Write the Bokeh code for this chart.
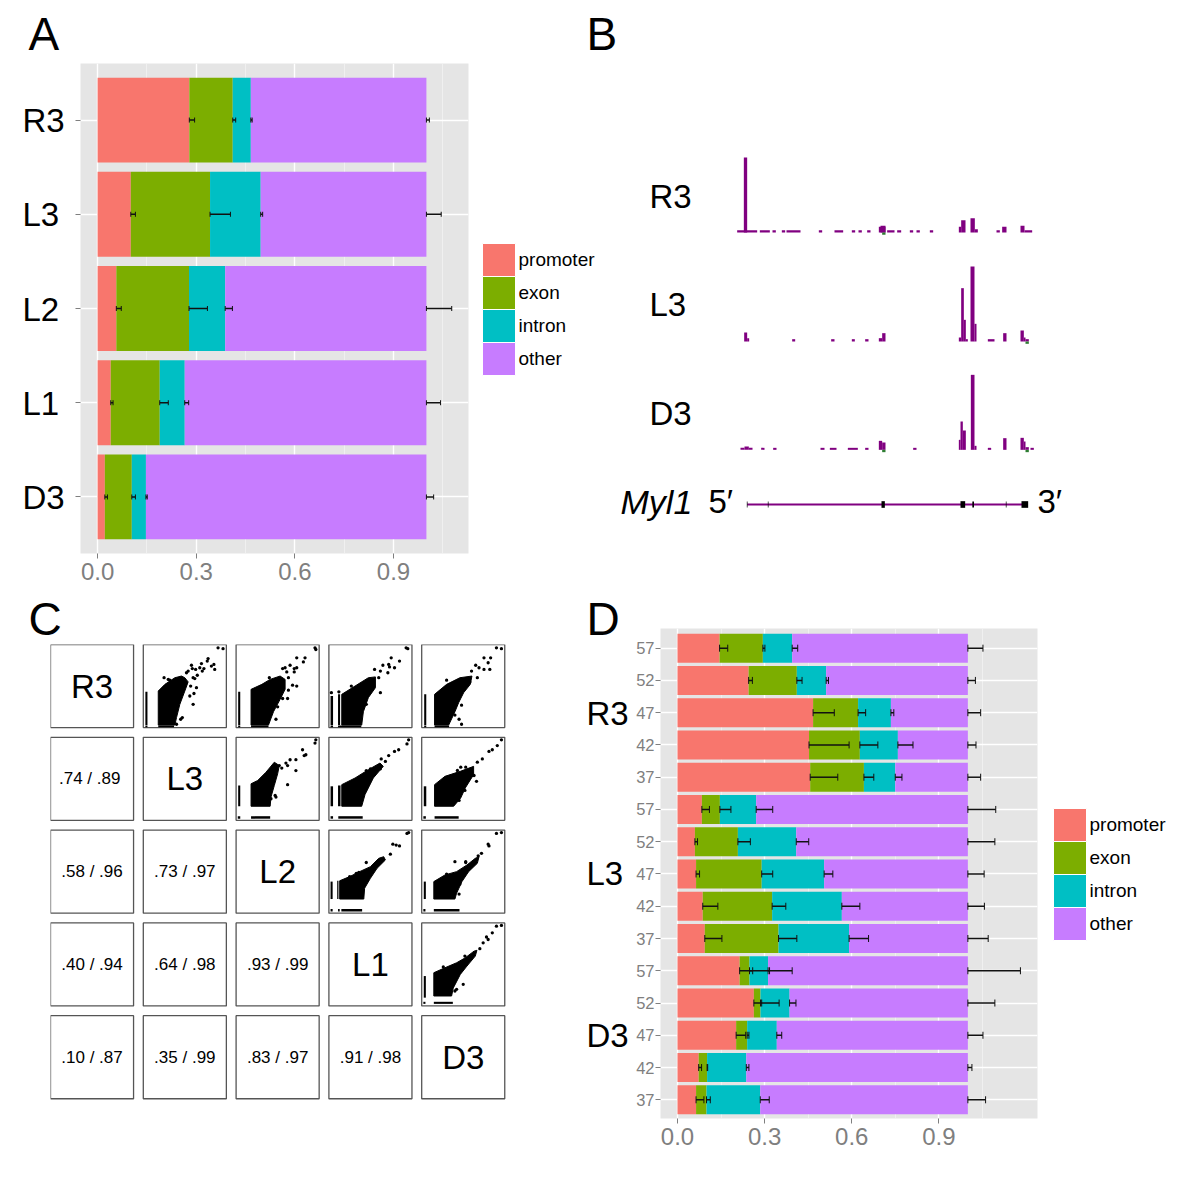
from bokeh.plotting import figure
from bokeh.layouts import row, column
from bokeh.core.properties import value
from bokeh.models import ColumnDataSource, FixedTicker, PrintfTickFormatter, Range1d, TeeHead, Whisker
from bokeh.embed import file_html
from bokeh.resources import INLINE

# ---------- Panel A data ----------
a_rows = ["D3", "L1", "L2", "L3", "R3"]
a_promoter = [0.022, 0.040, 0.057, 0.101, 0.279]
a_exon = [0.104, 0.189, 0.278, 0.342, 0.411]
a_intron = [0.147, 0.265, 0.388, 0.496, 0.466]
a_other = [1.0, 1.0, 1.0, 1.0, 1.0]
a_err_promoter = [0.030, 0.047, 0.072, 0.115, 0.295]
a_err_exon = [0.115, 0.215, 0.334, 0.404, 0.420]
a_err_intron = [0.151, 0.277, 0.410, 0.502, 0.470]
a_err_other = [1.022, 1.043, 1.077, 1.045, 1.009]

# ---------- Panel D data (bottom row first) ----------
d_rows = ["37", "42", "47", "52", "57", "37", "42", "47", "52", "57", "37", "42", "47", "52", "57"]
d_promoter = [.064, .073, .202, .263, .214, .094, .087, .064, .060, .084, .457, .453, .467, .245, .145]
d_exon = [.100, .102, .240, .286, .248, .348, .326, .290, .208, .146, .642, .628, .622, .411, .294]
d_intron = [.285, .237, .342, .386, .312, .591, .566, .505, .409, .271, .750, .759, .735, .512, .395]
d_other = [1.0] * 15
d_err_promoter = [.091, .083, .235, .290, .259, .153, .139, .076, .069, .110, .552, .591, .540, .258, .173]
d_err_exon = [.113, .104, .246, .350, .317, .411, .373, .328, .251, .184, .676, .690, .648, .429, .301]
d_err_intron = [.316, .246, .359, .408, .395, .658, .628, .535, .452, .328, .773, .811, .745, .520, .414]
d_err_other = [1.061, 1.014, 1.052, 1.093, 1.181, 1.070, 1.057, 1.056, 1.093, 1.096, 1.044, 1.028, 1.044, 1.026, 1.052]

classes = ["promoter", "exon", "intron", "other"]
colors = ["#F8766D", "#7CAE00", "#00BFC4", "#C77CFF"]
x_ticks = [0.0, 0.3, 0.6, 0.9]

# ---------- Panel B data (genome position, left/right/height) ----------
r3_left = [20, 40, 88, 126, 154, 168, 265, 312, 364, 384, 410, 445, 450, 470, 500, 538, 558, 598, 685, 692, 720, 733, 798, 815, 870, 882]
r3_right = [80, 50, 118, 136, 164, 210, 275, 338, 374, 394, 420, 465, 465, 492, 512, 548, 568, 608, 692, 705, 733, 742, 808, 828, 882, 905]
r3_height = [7, 225, 7, 7, 7, 7, 7, 7, 7, 7, 7, 17, 20, 7, 7, 7, 7, 7, 17, 37, 43, 10, 7, 17, 20, 7]
l3_left = [41, 50, 185, 302, 364, 404, 445, 455, 685, 692, 700, 706, 720, 732, 772, 818, 870, 880, 885]
l3_right = [50, 56, 194, 312, 373, 414, 455, 465, 692, 700, 706, 712, 732, 738, 792, 828, 880, 885, 895]
l3_height = [27, 10, 7, 7, 7, 7, 10, 25, 12, 160, 65, 7, 225, 53, 7, 25, 33, 12, 7]
d3_left = [30, 42, 55, 92, 128, 270, 298, 352, 404, 445, 455, 548, 685, 690, 697, 721, 732, 772, 818, 870, 880, 885, 900]
d3_right = [42, 55, 66, 102, 138, 282, 318, 382, 414, 455, 465, 558, 690, 697, 706, 732, 738, 782, 828, 880, 885, 895, 910]
d3_height = [6, 10, 6, 6, 6, 6, 6, 6, 6, 27, 22, 6, 30, 85, 58, 225, 12, 6, 35, 36, 25, 8, 6]
gene_start, gene_end = 50, 883
exon_pos = [50, 113, 458, 697, 728, 827, 883]
exon_width = [2, 2, 10, 14, 5, 2, 20]
exon_height = [18, 18, 20, 20, 18, 18, 20]

# ---------- Panel C data ----------
names = ["R3", "L3", "L2", "L1", "D3"]
corr = {(1, 0): ".74  / .89", (2, 0): ".58 / .96", (2, 1): ".73 / .97",
        (3, 0): ".40 / .94", (3, 1): ".64 / .98", (3, 2): ".93 / .99",
        (4, 0): ".10 / .87", (4, 1): ".35 / .99", (4, 2): ".83 / .97", (4, 3): ".91 / .98"}
blobs = {
    (0, 1): [(.18, .03), (.18, .44), (.26, .52), (.38, .60), (.46, .62), (.50, .60), (.54, .55), (.50, .44), (.44, .28), (.40, .12), (.38, .03)],
    (0, 2): [(.18, .03), (.18, .46), (.31, .52), (.41, .58), (.53, .62), (.59, .58), (.59, .46), (.53, .34), (.45, .19), (.39, .03)],
    (0, 3): [(.155, .03), (.155, .40), (.315, .50), (.475, .60), (.56, .61), (.56, .48), (.475, .36), (.415, .19), (.395, .03)],
    (0, 4): [(.155, .03), (.155, .40), (.30, .52), (.46, .60), (.605, .62), (.585, .52), (.505, .42), (.445, .30), (.40, .19), (.325, .03)],
    (1, 2): [(.18, .17), (.18, .44), (.26, .48), (.36, .58), (.46, .70), (.52, .66), (.50, .56), (.46, .42), (.42, .28), (.41, .17)],
    (1, 3): [(.155, .17), (.155, .43), (.315, .51), (.475, .61), (.615, .69), (.655, .65), (.535, .51), (.435, .31), (.395, .17)],
    (1, 4): [(.155, .17), (.155, .43), (.28, .53), (.465, .59), (.625, .65), (.625, .55), (.525, .39), (.47, .27), (.385, .17)],
    (2, 3): [(.13, .17), (.13, .39), (.25, .44), (.37, .50), (.50, .56), (.60, .66), (.66, .68), (.68, .64), (.58, .54), (.50, .42), (.43, .30), (.42, .17)],
    (2, 4): [(.146, .17), (.146, .38), (.28, .46), (.42, .50), (.545, .58), (.645, .66), (.69, .68), (.67, .60), (.565, .50), (.485, .38), (.42, .24), (.40, .17)],
    (3, 4): [(.146, .12), (.146, .40), (.28, .46), (.42, .52), (.525, .58), (.63, .66), (.665, .67), (.645, .60), (.545, .48), (.465, .38), (.38, .215), (.36, .12)],
}
# vertical strip near the left edge: u0, u1, v0, v1
side_strips = {
    (0, 1): [(.025, .05, .03, .43)], (0, 2): [(.025, .05, .03, .43)],
    (0, 3): [(.02, .05, .03, .38), (.11, .135, .03, .40)], (0, 4): [(.03, .055, .03, .40)],
    (1, 2): [(.025, .05, .17, .42)], (1, 3): [(.02, .05, .17, .41), (.11, .14, .17, .42)],
    (1, 4): [(.025, .055, .17, .41)], (2, 3): [(.02, .045, .17, .38), (.10, .115, .17, .39)],
    (2, 4): [(.025, .05, .17, .38)], (3, 4): [(.025, .05, .10, .36)],
}
# horizontal strip along the bottom edge: u0, u1, v0, v1
low_strips = {
    (0, 1): [(.025, .05, .005, .025), (.18, .37, .005, .025)], (0, 2): [(.025, .05, .005, .025), (.18, .39, .005, .025)],
    (0, 3): [(.02, .05, .005, .025), (.11, .39, .005, .025)], (0, 4): [(.03, .055, .005, .025), (.155, .33, .005, .025)],
    (1, 2): [(.02, .05, .02, .05), (.18, .41, .02, .05)], (1, 3): [(.02, .05, .02, .05), (.113, .407, .02, .05)],
    (1, 4): [(.02, .05, .02, .05), (.155, .445, .02, .05)], (2, 3): [(.02, .045, .02, .05), (.11, .13, .02, .05), (.15, .40, .02, .05)],
    (2, 4): [(.02, .045, .02, .05), (.146, .455, .02, .05)], (3, 4): [(.02, .045, .025, .05), (.146, .375, .025, .05)],
}
outliers = {
    (0, 1): [(.90, .96), (.96, .95), (.78, .83), (.77, .80), (.82, .74), (.85, .76), (.86, .70), (.70, .77), (.59, .71), (.63, .70), (.58, .75), (.52, .66), (.68, .72), (.73, .71), (.65, .63), (.62, .59), (.60, .60), (.71, .68), (.64, .48), (.61, .41), (.60, .28), (.56, .38), (.45, .10), (.47, .12), (.40, .04), (.25, .60), (.32, .57), (.30, .58), (.54, .68), (.57, .50)],
    (0, 2): [(.95, .96), (.96, .94), (.73, .84), (.83, .84), (.81, .79), (.65, .75), (.59, .72), (.70, .71), (.73, .72), (.70, .67), (.61, .67), (.56, .71), (.73, .50), (.68, .51), (.63, .45), (.62, .35), (.56, .35), (.50, .25), (.48, .10), (.39, .15), (.63, .60), (.40, .60)],
    (0, 3): [(.93, .96), (.95, .95), (.75, .84), (.85, .80), (.65, .75), (.72, .76), (.73, .73), (.79, .72), (.71, .66), (.55, .70), (.62, .68), (.60, .60), (.62, .42), (.45, .28), (.03, .42), (.12, .43), (.27, .50)],
    (0, 4): [(.90, .96), (.96, .95), (.75, .84), (.83, .84), (.80, .78), (.65, .75), (.69, .72), (.75, .70), (.82, .70), (.60, .68), (.67, .60), (.58, .55), (.48, .27), (.40, .15), (.45, .10), (.48, .04), (.30, .57)],
    (1, 2): [(.96, .97), (.95, .93), (.80, .85), (.84, .79), (.82, .78), (.65, .73), (.72, .73), (.60, .69), (.55, .63), (.52, .66), (.62, .66), (.72, .60), (.62, .43), (.47, .30), (.48, .28), (.42, .26)],
    (1, 3): [(.96, .97), (.94, .92), (.84, .85), (.79, .83), (.72, .78), (.63, .74), (.62, .62), (.68, .71), (.60, .65), (.50, .62), (.45, .60)],
    (1, 4): [(.96, .97), (.91, .90), (.85, .85), (.81, .83), (.73, .74), (.67, .70), (.53, .64), (.60, .58), (.63, .54), (.66, .47), (.47, .64), (.43, .60), (.52, .36), (.45, .24)],
    (2, 3): [(.96, .97), (.94, .96), (.77, .83), (.85, .81), (.81, .82), (.74, .71), (.60, .61), (.45, .61), (.36, .49), (.33, .48), (.25, .44)],
    (2, 4): [(.90, .96), (.96, .97), (.80, .83), (.81, .81), (.53, .62), (.53, .61), (.72, .72), (.68, .69), (.40, .62), (.30, .47), (.46, .35), (.45, .23)],
    (3, 4): [(.96, .97), (.90, .96), (.85, .88), (.78, .83), (.80, .80), (.74, .76), (.70, .69), (.52, .60), (.26, .47), (.50, .26), (.40, .18), (.42, .20)],
}

FONT = "Liberation Sans"
GREY = "#7F7F7F"
PANEL = "#E5E5E5"


def bars(width, height, frame, xr, yr, rows, labels, stacks, errs, label_style, tee, standoff):
    left, right, top, bottom = frame
    p = figure(width=width, height=height, x_range=Range1d(*xr), y_range=Range1d(*yr),
               output_backend="svg", toolbar_location=None, frame_align=False,
               min_border_left=left, min_border_right=right, min_border_top=top, min_border_bottom=bottom)
    p.border_fill_alpha = 0
    p.background_fill_color = PANEL
    p.outline_line_color = None
    p.xaxis.ticker = FixedTicker(ticks=x_ticks, minor_ticks=[0.15, 0.45, 0.75, 1.05])
    p.xaxis.formatter = PrintfTickFormatter(format="%.1f")
    p.yaxis.ticker = FixedTicker(ticks=rows)
    p.yaxis.major_label_overrides = {r: l for r, l in zip(rows, labels)}
    p.axis.axis_line_color = None
    p.axis.major_tick_line_color = GREY
    p.axis.major_tick_out = 5
    p.axis.major_tick_in = 0
    p.axis.minor_tick_line_color = None
    p.xaxis.major_label_text_color = GREY
    p.xaxis.major_label_text_font = FONT
    p.xaxis.major_label_text_font_size = "24px"
    p.xaxis.major_label_standoff = 4
    p.yaxis.major_label_text_font = FONT
    p.yaxis.major_label_standoff = standoff
    p.yaxis.major_label_text_font_size = label_style[0]
    p.yaxis.major_label_text_color = label_style[1]
    p.grid.grid_line_color = "white"
    p.grid.grid_line_width = 1.4
    p.xgrid.minor_grid_line_color = "#F2F2F2"
    p.xgrid.minor_grid_line_width = 0.8
    start = [0.0] * len(rows)
    for col, end in zip(colors, stacks):
        p.hbar(y=rows, left=start, right=end, height=0.9, fill_color=col, line_color=None)
        start = end
    for base, high in zip(stacks, errs):
        src = ColumnDataSource(dict(y=rows, lo=base, hi=high))
        p.add_layout(Whisker(source=src, base="y", lower="lo", upper="hi", dimension="width", level="overlay",
                             line_color="#111111", line_width=1.5,
                             lower_head=TeeHead(size=tee, line_color="#111111", line_width=1),
                             upper_head=TeeHead(size=tee, line_color="#111111", line_width=1)))
    return p


# ---------- A (its row names are left-aligned, so they are drawn in the overlay below) ----------
pa = bars(600, 598, (80, 132, 63, 45), (-0.052, 1.128), (0.4, 5.6), [1, 2, 3, 4, 5], [""] * 5,
          [a_promoter, a_exon, a_intron, a_other],
          [a_err_promoter, a_err_exon, a_err_intron, a_err_other],
          ("33px", "black"), 5, 13)

# ---------- B ----------
pb = figure(width=610, height=598, x_range=Range1d(-432, 1398), y_range=Range1d(0, 1794),
            output_backend="svg", toolbar_location=None, min_border=0, frame_align=False,
            x_axis_location=None, y_axis_location=None)
pb.border_fill_alpha = 0
pb.background_fill_alpha = 0
pb.outline_line_color = None
pb.grid.visible = False
PURPLE = "#800080"
for base, l, r, h in [(1098, r3_left, r3_right, r3_height),
                      (771, l3_left, l3_right, l3_height),
                      (446, d3_left, d3_right, d3_height)]:
    pb.quad(left=l, right=r, bottom=[base] * len(l), top=[base + v for v in h],
            fill_color=PURPLE, line_color=None)
for base, l in [(1098, 455), (771, 885), (446, 455), (446, 885)]:
    pb.quad(left=[l], right=[l + 10], bottom=[base - 7], top=[base], fill_color="#2E7D32", line_color=None)
GENE_Y = 282
pb.segment(x0=[gene_start], x1=[gene_end], y0=[GENE_Y], y1=[GENE_Y], line_color=PURPLE, line_width=2)
pb.rect(x=exon_pos, y=[GENE_Y] * len(exon_pos), width=exon_width, height=exon_height,
        fill_color="black", line_color=None)

# ---------- C ----------
CELL = 0.895
pc = figure(width=600, height=583, x_range=Range1d(0, 5), y_range=Range1d(0, 5),
            output_backend="svg", toolbar_location=None, x_axis_location=None, y_axis_location=None,
            frame_align=False, min_border_left=50, min_border_right=86, min_border_top=46, min_border_bottom=73)
pc.border_fill_alpha = 0
pc.outline_line_color = None
pc.grid.visible = False


def cx(c, u):
    return c + CELL * u


def cy(r, v):
    return 5 - r - CELL + CELL * v


for r in range(5):
    for c in range(5):
        pc.quad(left=[cx(c, 0)], right=[cx(c, 1)], bottom=[cy(r, 0)], top=[cy(r, 1)],
                fill_color="white", line_color="#555555", line_width=1.3)
        if r == c:
            pc.text(x=[cx(c, .5)], y=[cy(r, .5)], text=[names[r]], text_font_size="33px",
                    text_font=value(FONT), text_align="center", text_baseline="middle")
        elif r > c:
            pc.text(x=[cx(c, .5)], y=[cy(r, .5)], text=[corr[(r, c)]], text_font_size="17px",
                    text_font=value(FONT), text_align="center", text_baseline="middle")
for (r, c), pts in blobs.items():
    pc.patch(x=[cx(c, u) for u, v in pts], y=[cy(r, v) for u, v in pts], fill_color="black", line_color="black", line_width=1)
    for u0, u1, v0, v1 in side_strips[(r, c)] + low_strips[(r, c)]:
        pc.quad(left=[cx(c, u0)], right=[cx(c, u1)], bottom=[cy(r, v0)], top=[cy(r, v1)], fill_color="black", line_color=None)
    pts = outliers[(r, c)]
    pc.scatter(x=[cx(c, u) for u, v in pts], y=[cy(r, v) for u, v in pts], size=3.3, marker="circle",
               fill_color="black", line_color=None)

# ---------- D ----------
pd_ = bars(610, 583, (74, 159, 30, 63), (-0.0585, 1.2398), (0.42, 15.61), list(range(1, 16)), d_rows,
           [d_promoter, d_exon, d_intron, d_other],
           [d_err_promoter, d_err_exon, d_err_intron, d_err_other],
           ("16.5px", GREY), 7, 1)

# ---------- Overlay: panel letters, free labels and colour keys, in page pixels ----------
ov = figure(width=1196, height=1180, x_range=Range1d(0, 1196), y_range=Range1d(1180, 0),
            output_backend="svg", toolbar_location=None, min_border=0, frame_align=False,
            x_axis_location=None, y_axis_location=None, margin=(-1181, 0, 0, 0))
ov.border_fill_alpha = 0
ov.background_fill_alpha = 0
ov.outline_line_color = None
ov.grid.visible = False


def put(x, y, text, size, style="normal"):
    ov.text(x=[x], y=[y], text=[text], text_font=value(FONT), text_font_size=f"{size}px",
            text_font_style=style, text_align="left", text_baseline="middle", text_color="black")


def key(x, y, size):
    for i, (name, col) in enumerate(zip(classes, colors)):
        ov.quad(left=[x], right=[x + size], top=[y + i * size], bottom=[y + (i + 1) * size],
                fill_color=col, line_color="white", line_width=1)
        put(x + size + 3, y + (i + 0.5) * size - 1, name, 19)


for x, y, t in [(28, 33, "A"), (586, 33, "B"), (28, 618, "C"), (586, 618, "D")]:
    put(x, y, t, 46)
for i, t in enumerate(reversed(a_rows)):
    put(22, 120 + 94.25 * i, t, 33)
for y, t in [(196, "R3"), (304, "L3"), (413, "D3")]:
    put(649, y, t, 33)
put(620, 501, "Myl1", 34, style="italic")
put(708, 501, "5\u2032", 33)
put(1037, 501, "3\u2032", 33)
for y, t in [(713, "R3"), (873, "L3"), (1035, "D3")]:
    put(586, y, t, 33)
key(482, 243, 33)
key(1053, 808, 33)

left = column(pa, pc, spacing=0, margin=(0, -14, 0, 0))
right = column(pb, pd_, spacing=0)
layout = column(row(left, right, spacing=0), ov, spacing=0)
open("out.html", "w").write(file_html(layout, INLINE))
